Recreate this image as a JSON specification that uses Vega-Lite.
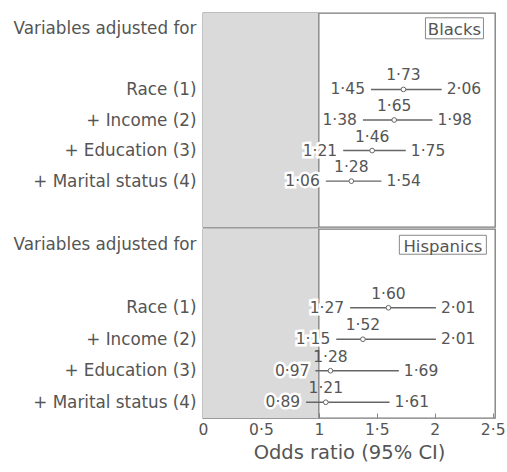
{
  "$schema": "https://vega.github.io/schema/vega-lite/v6.json",
  "padding": {"left": 12, "top": 11, "right": 0, "bottom": 0},
  "spacing": -4,
  "datasets": {
    "est": [
      {"group": "Blacks", "label": "Race (1)", "lo": 1.45, "or": 1.73, "hi": 2.06, "pt": 1.73},
      {"group": "Blacks", "label": "+ Income (2)", "lo": 1.38, "or": 1.65, "hi": 1.98, "pt": 1.65},
      {"group": "Blacks", "label": "+ Education (3)", "lo": 1.21, "or": 1.46, "hi": 1.75, "pt": 1.46},
      {"group": "Blacks", "label": "+ Marital status (4)", "lo": 1.06, "or": 1.28, "hi": 1.54, "pt": 1.28},
      {"group": "Hispanics", "label": "Race (1)", "lo": 1.27, "or": 1.60, "hi": 2.01, "pt": 1.60},
      {"group": "Hispanics", "label": "+ Income (2)", "lo": 1.15, "or": 1.52, "hi": 2.01, "pt": 1.38},
      {"group": "Hispanics", "label": "+ Education (3)", "lo": 0.97, "or": 1.28, "hi": 1.69, "pt": 1.10},
      {"group": "Hispanics", "label": "+ Marital status (4)", "lo": 0.89, "or": 1.21, "hi": 1.61, "pt": 1.06}
    ],
    "blank": [{}],
    "g1": [{"group": "Blacks"}],
    "g2": [{"group": "Hispanics"}]
  },
  "vconcat": [
    {
      "width": 292,
      "height": 214,
      "encoding": {
        "y": {
          "field": "label",
          "type": "ordinal",
          "scale": {"type": "point", "padding": 0.5, "domain": ["Variables adjusted for", " ", "Race (1)", "+ Income (2)", "+ Education (3)", "+ Marital status (4)", "  "]},
          "axis": {"title": null}
        }
      },
      "layer": [
        {
          "data": {"name": "blank"},
          "mark": {"type": "rect", "color": "#dadada"},
          "encoding": {
            "x": {"datum": 0, "type": "quantitative", "scale": {"domain": [0, 2.52], "nice": false}, "axis": null},
            "x2": {"datum": 1},
            "y": null
          }
        },
        {
          "data": {"name": "blank"},
          "mark": {"type": "rule", "color": "#777", "strokeWidth": 1.2},
          "encoding": {"x": {"datum": 1, "type": "quantitative", "axis": null}, "y": null}
        },
        {
          "data": {"name": "est"},
          "transform": [{"filter": "datum.group == 'Blacks'"}],
          "mark": {"type": "rule", "color": "#666", "strokeWidth": 1.4},
          "encoding": {"x": {"field": "lo", "type": "quantitative", "axis": null}, "x2": {"field": "hi"}}
        },
        {
          "data": {"name": "est"},
          "transform": [{"filter": "datum.group == 'Blacks'"}],
          "mark": {"type": "text", "align": "right", "baseline": "middle", "dx": -6, "fontSize": 15.5, "color": "white", "stroke": "white", "strokeWidth": 5},
          "encoding": {"x": {"field": "lo", "type": "quantitative", "axis": null}, "text": {"field": "lo", "format": ".2f"}}
        },
        {
          "data": {"name": "est"},
          "transform": [{"filter": "datum.group == 'Blacks'"}],
          "mark": {"type": "text", "align": "right", "baseline": "middle", "dx": -6, "fontSize": 15.5, "color": "#555"},
          "encoding": {"x": {"field": "lo", "type": "quantitative", "axis": null}, "text": {"field": "lo", "format": ".2f"}}
        },
        {
          "data": {"name": "est"},
          "transform": [{"filter": "datum.group == 'Blacks'"}],
          "mark": {"type": "text", "align": "left", "baseline": "middle", "dx": 5, "fontSize": 15.5, "color": "#555"},
          "encoding": {"x": {"field": "hi", "type": "quantitative", "axis": null}, "text": {"field": "hi", "format": ".2f"}}
        },
        {
          "data": {"name": "est"},
          "transform": [{"filter": "datum.group == 'Blacks'"}],
          "mark": {"type": "text", "align": "center", "baseline": "middle", "dy": -14, "fontSize": 15.5, "color": "#555"},
          "encoding": {"x": {"field": "pt", "type": "quantitative", "axis": null}, "text": {"field": "or", "format": ".2f"}}
        },
        {
          "data": {"name": "est"},
          "transform": [{"filter": "datum.group == 'Blacks'"}],
          "mark": {"type": "point", "shape": "circle", "filled": true, "fill": "white", "stroke": "#666", "strokeWidth": 1, "size": 22, "opacity": 1},
          "encoding": {"x": {"field": "pt", "type": "quantitative", "axis": null}}
        },
        {
          "data": {"name": "g1"},
          "mark": {"type": "point", "shape": "M-1,-0.362H1V0.362H-1Z", "size": 3364, "filled": false, "stroke": "#888", "strokeWidth": 1, "opacity": 1},
          "encoding": {"x": {"datum": 2.17, "type": "quantitative", "axis": null}, "y": {"datum": "Variables adjusted for"}}
        },
        {
          "data": {"name": "g1"},
          "mark": {"type": "text", "align": "center", "baseline": "middle", "fontSize": 16.5, "color": "#555", "dy": 2},
          "encoding": {"x": {"datum": 2.17, "type": "quantitative", "axis": null}, "y": {"datum": "Variables adjusted for"}, "text": {"field": "group"}}
        }
      ]
    },
    {
      "width": 292,
      "height": 189,
      "encoding": {
        "y": {
          "field": "label",
          "type": "ordinal",
          "scale": {"type": "point", "padding": 0.5, "domain": ["Variables adjusted for", " ", "Race (1)", "+ Income (2)", "+ Education (3)", "+ Marital status (4)"]},
          "axis": {"title": null}
        }
      },
      "layer": [
        {
          "data": {"name": "blank"},
          "mark": {"type": "rect", "color": "#dadada"},
          "encoding": {
            "x": {"datum": 0, "type": "quantitative", "scale": {"domain": [0, 2.52], "nice": false}, "title": "Odds ratio (95% CI)", "axis": {"values": [0, 0.5, 1, 1.5, 2, 2.5]}},
            "x2": {"datum": 1},
            "y": null
          }
        },
        {
          "data": {"name": "blank"},
          "mark": {"type": "rule", "color": "#777", "strokeWidth": 1.2},
          "encoding": {"x": {"datum": 1, "type": "quantitative", "title": "Odds ratio (95% CI)"}, "y": null}
        },
        {
          "data": {"name": "est"},
          "transform": [{"filter": "datum.group == 'Hispanics'"}],
          "mark": {"type": "rule", "color": "#666", "strokeWidth": 1.4},
          "encoding": {"x": {"field": "lo", "type": "quantitative", "title": "Odds ratio (95% CI)"}, "x2": {"field": "hi"}}
        },
        {
          "data": {"name": "est"},
          "transform": [{"filter": "datum.group == 'Hispanics'"}],
          "mark": {"type": "text", "align": "right", "baseline": "middle", "dx": -6, "fontSize": 15.5, "color": "white", "stroke": "white", "strokeWidth": 5},
          "encoding": {"x": {"field": "lo", "type": "quantitative", "title": "Odds ratio (95% CI)"}, "text": {"field": "lo", "format": ".2f"}}
        },
        {
          "data": {"name": "est"},
          "transform": [{"filter": "datum.group == 'Hispanics'"}],
          "mark": {"type": "text", "align": "right", "baseline": "middle", "dx": -6, "fontSize": 15.5, "color": "#555"},
          "encoding": {"x": {"field": "lo", "type": "quantitative", "title": "Odds ratio (95% CI)"}, "text": {"field": "lo", "format": ".2f"}}
        },
        {
          "data": {"name": "est"},
          "transform": [{"filter": "datum.group == 'Hispanics'"}],
          "mark": {"type": "text", "align": "left", "baseline": "middle", "dx": 5, "fontSize": 15.5, "color": "#555"},
          "encoding": {"x": {"field": "hi", "type": "quantitative", "title": "Odds ratio (95% CI)"}, "text": {"field": "hi", "format": ".2f"}}
        },
        {
          "data": {"name": "est"},
          "transform": [{"filter": "datum.group == 'Hispanics'"}],
          "mark": {"type": "text", "align": "center", "baseline": "middle", "dy": -14, "fontSize": 15.5, "color": "#555"},
          "encoding": {"x": {"field": "pt", "type": "quantitative", "title": "Odds ratio (95% CI)"}, "text": {"field": "or", "format": ".2f"}}
        },
        {
          "data": {"name": "est"},
          "transform": [{"filter": "datum.group == 'Hispanics'"}],
          "mark": {"type": "point", "shape": "circle", "filled": true, "fill": "white", "stroke": "#666", "strokeWidth": 1, "size": 22, "opacity": 1},
          "encoding": {"x": {"field": "pt", "type": "quantitative", "title": "Odds ratio (95% CI)"}}
        },
        {
          "data": {"name": "g2"},
          "mark": {"type": "point", "shape": "M-1,-0.218H1V0.218H-1Z", "size": 7569, "filled": false, "stroke": "#888", "strokeWidth": 1, "opacity": 1},
          "encoding": {"x": {"datum": 2.07, "type": "quantitative", "title": "Odds ratio (95% CI)"}, "y": {"datum": "Variables adjusted for"}}
        },
        {
          "data": {"name": "g2"},
          "mark": {"type": "text", "align": "center", "baseline": "middle", "fontSize": 16.5, "color": "#555", "dy": 2},
          "encoding": {"x": {"datum": 2.07, "type": "quantitative", "title": "Odds ratio (95% CI)"}, "y": {"datum": "Variables adjusted for"}, "text": {"field": "group"}}
        }
      ]
    }
  ],
  "config": {
    "locale": {"number": {"decimal": "·", "thousands": ",", "grouping": [3], "currency": ["$", ""]}},
    "font": "DejaVu Sans",
    "view": {"stroke": "#7a7a7a", "strokeWidth": 1.3},
    "axisX": {
      "format": "~g",
      "labelFontSize": 15.5,
      "labelColor": "#555",
      "labelFlush": false,
      "titleFontSize": 19.5,
      "titleColor": "#555",
      "titleFontWeight": "normal",
      "domain": false,
      "grid": false,
      "tickSize": -5,
      "tickColor": "#888",
      "labelPadding": 9,
      "titlePadding": 6
    },
    "axisY": {
      "domain": false,
      "ticks": false,
      "grid": false,
      "labelFontSize": 16.8,
      "labelColor": "#555",
      "labelPadding": 7,
      "labelLimit": 400
    }
  }
}
